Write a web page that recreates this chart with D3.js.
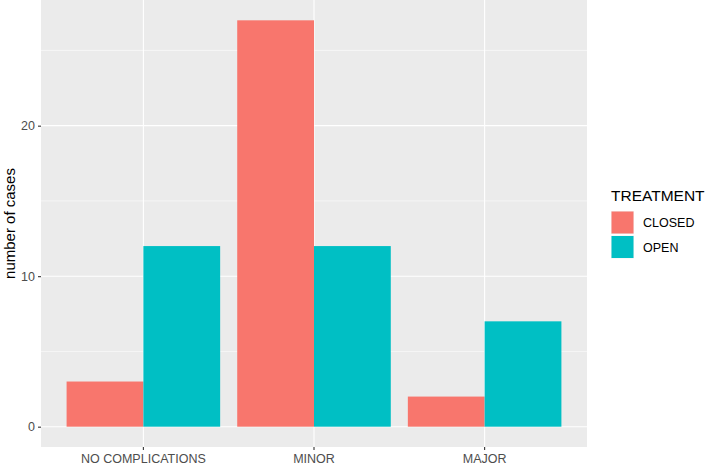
<!DOCTYPE html>
<html>
<head>
<meta charset="utf-8">
<script src="https://cdn.jsdelivr.net/npm/d3@7"></script>
<style>
  body { margin: 0; background: #fff; }
  text { font-family: "Liberation Sans", Arial, sans-serif; }
</style>
</head>
<body>
<div id="chart"></div>
<script>
"use strict";

// data
var categories = ["NO COMPLICATIONS", "MINOR", "MAJOR"];
var treatments = ["CLOSED", "OPEN"];
var closedCases = [3, 27, 2];
var openCases = [12, 12, 7];
var yTicks = [0, 10, 20];
var yMinor = [5, 15, 25];

var colors = { CLOSED: "#F8766D", OPEN: "#00BFC4" };

var width = 708, height = 465;
var panel = { left: 41, right: 587, top: 0, bottom: 447 };

var rows = [];
categories.forEach(function(c, i) {
  rows.push({ cat: c, trt: "CLOSED", n: closedCases[i] });
  rows.push({ cat: c, trt: "OPEN", n: openCases[i] });
});

var svg = d3.select("#chart").append("svg")
  .attr("width", width)
  .attr("height", height);

// x: discrete scale with ggplot's 0.6 expansion on each side
var x = d3.scalePoint()
  .domain(categories)
  .range([0, categories.length - 1]);
var unit = (panel.right - panel.left) / (categories.length - 1 + 1.2);
function cx(c) { return panel.left + (0.6 + x(c)) * unit; }

var ymax = d3.max(closedCases.concat(openCases));
var y = d3.scaleLinear()
  .domain([-0.05 * ymax, ymax * 1.05])
  .range([panel.bottom, panel.top]);

// panel background
svg.append("rect")
  .attr("x", panel.left)
  .attr("y", panel.top)
  .attr("width", panel.right - panel.left)
  .attr("height", panel.bottom - panel.top)
  .attr("fill", "#EBEBEB");

// minor grid
svg.selectAll(".minor")
  .data(yMinor)
  .enter().append("line")
  .attr("x1", panel.left).attr("x2", panel.right)
  .attr("y1", d => y(d)).attr("y2", d => y(d))
  .attr("stroke", "#fff").attr("stroke-width", 0.55);

// major grid
svg.selectAll(".major")
  .data(yTicks)
  .enter().append("line")
  .attr("x1", panel.left).attr("x2", panel.right)
  .attr("y1", d => y(d)).attr("y2", d => y(d))
  .attr("stroke", "#fff").attr("stroke-width", 1.1);

svg.selectAll(".vmajor")
  .data(categories)
  .enter().append("line")
  .attr("x1", d => cx(d)).attr("x2", d => cx(d))
  .attr("y1", panel.top).attr("y2", panel.bottom)
  .attr("stroke", "#fff").attr("stroke-width", 1.1);

// bars (dodged, total width 0.9)
var bw = 0.45 * unit;
svg.selectAll(".bar")
  .data(rows)
  .enter().append("rect")
  .attr("x", d => cx(d.cat) + (d.trt === "CLOSED" ? -bw : 0))
  .attr("width", bw)
  .attr("y", d => y(d.n))
  .attr("height", d => y(0) - y(d.n))
  .attr("fill", d => colors[d.trt]);

// y axis
var yAxis = svg.append("g")
  .attr("transform", "translate(" + panel.left + ",0)")
  .call(d3.axisLeft(y).tickValues(yTicks).tickSize(3).tickPadding(3));
yAxis.select(".domain").remove();
yAxis.selectAll(".tick line").attr("stroke", "#333").attr("stroke-width", 1.1);
yAxis.selectAll(".tick text").attr("fill", "#4D4D4D").style("font-size", "12.5px")
  .style("font-family", "Liberation Sans, Arial, sans-serif");

// x axis
var xAxis = svg.append("g")
  .attr("transform", "translate(0," + panel.bottom + ")");
xAxis.selectAll("line")
  .data(categories)
  .enter().append("line")
  .attr("x1", d => cx(d)).attr("x2", d => cx(d))
  .attr("y1", 0).attr("y2", 3)
  .attr("stroke", "#333").attr("stroke-width", 1.1);
xAxis.selectAll("text")
  .data(categories)
  .enter().append("text")
  .attr("x", d => cx(d))
  .attr("y", 15.5)
  .attr("text-anchor", "middle")
  .attr("fill", "#4D4D4D")
  .style("font-size", "12.5px")
  .text(d => d);

// y axis title
svg.append("text")
  .attr("transform", "translate(15," + ((panel.top + panel.bottom) / 2) + ") rotate(-90)")
  .attr("text-anchor", "middle")
  .style("font-size", "15px")
  .attr("fill", "#000")
  .text("number of cases");

// legend
var lg = svg.append("g").attr("transform", "translate(611,0)");
lg.append("text")
  .attr("x", 0).attr("y", 200.5)
  .style("font-size", "15.5px")
  .text("TREATMENT");
var keys = lg.selectAll(".key")
  .data(treatments)
  .enter().append("g")
  .attr("transform", (d, i) => "translate(0," + (211 + i * 24.5) + ")");
keys.append("rect")
  .attr("width", 23).attr("height", 23)
  .attr("fill", "#F2F2F2");
keys.append("rect")
  .attr("x", 0.5).attr("y", 0.5)
  .attr("width", 22).attr("height", 22)
  .attr("fill", d => colors[d]);
keys.append("text")
  .attr("x", 32).attr("y", 16)
  .style("font-size", "12.5px")
  .attr("fill", "#000")
  .text(d => d);
</script>
</body>
</html>
